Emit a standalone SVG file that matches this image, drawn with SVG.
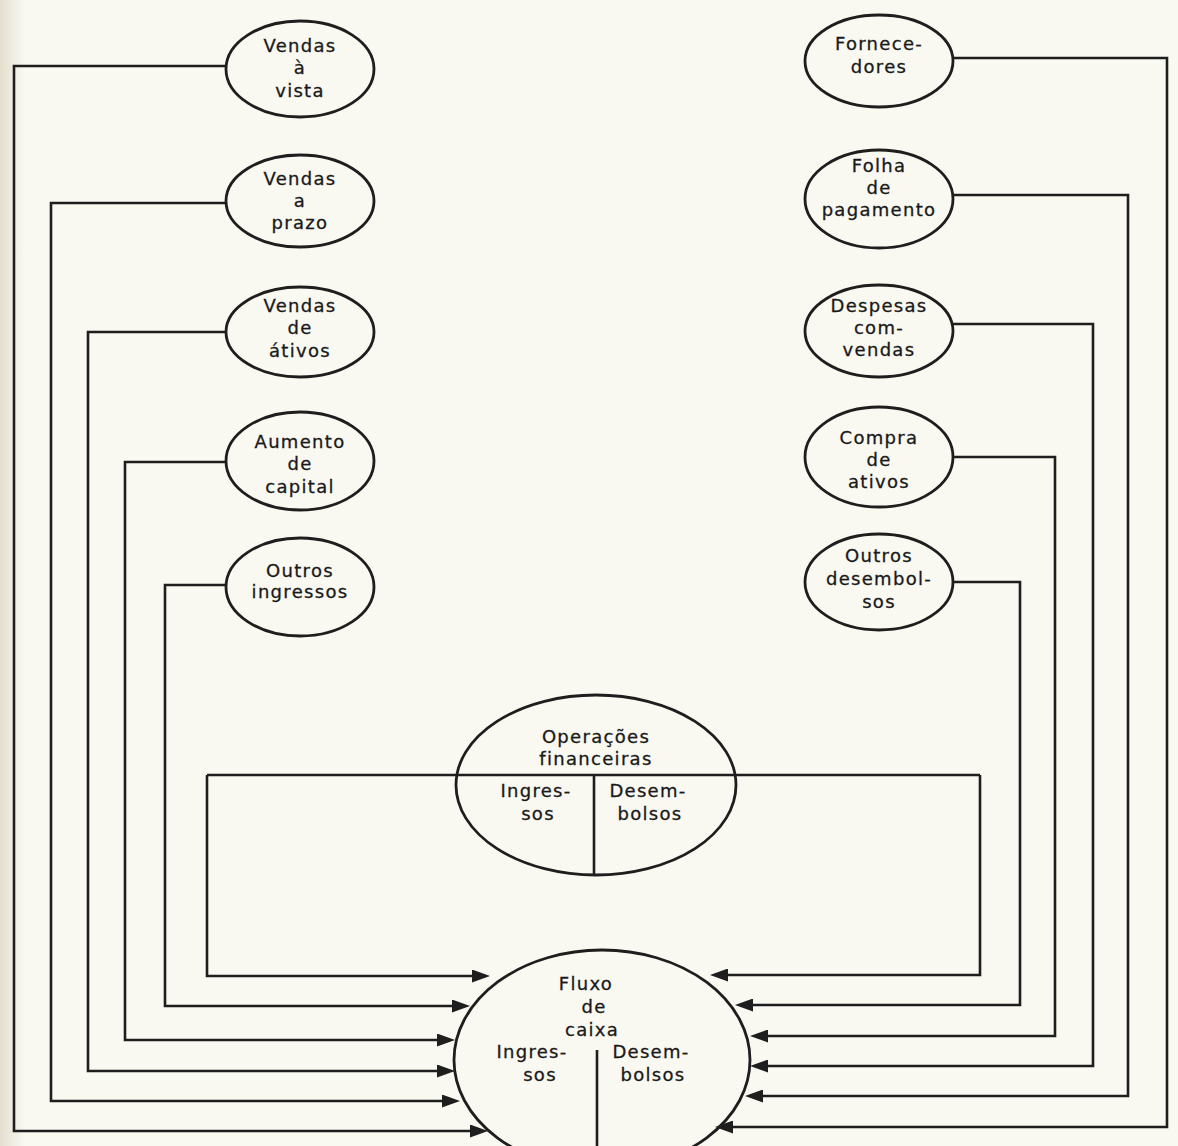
<svg xmlns="http://www.w3.org/2000/svg" width="1178" height="1146" viewBox="0 0 1178 1146">
<defs>
<style>
.bg{fill:#f9f8f1}
.node ellipse{fill:none;stroke:#1e1e1e;stroke-width:2.8}
.node text{font-family:"DejaVu Sans","Liberation Sans",sans-serif;font-size:18px;letter-spacing:1.3px;fill:#1a1a1a;stroke:#1a1a1a;stroke-width:0.3;text-anchor:middle}
.conn path{fill:none;stroke:#1e1e1e;stroke-width:2.6;marker-end:url(#ah)}
.conn line{stroke:#1e1e1e;stroke-width:2.6}
.div{stroke:#1e1e1e;stroke-width:2.6}
</style>
<linearGradient id="edge" x1="0" y1="0" x2="1" y2="0">
<stop offset="0" stop-color="#e4dece"/>
<stop offset="1" stop-color="#f9f8f1"/>
</linearGradient>
<marker id="ah" markerUnits="userSpaceOnUse" markerWidth="18" markerHeight="13" refX="11" refY="6.5" orient="auto">
<path d="M0,0 L18,6.5 L0,13 z" fill="#1e1e1e"/>
</marker>
</defs>
<rect class="bg" x="0" y="0" width="1178" height="1146"/>
<rect x="0" y="0" width="24" height="1146" fill="url(#edge)"/>

<g id="connectors" class="conn">
<path d="M226,66 H14 V1131 H481"/>
<path d="M226,203 H51 V1101 H453"/>
<path d="M226,332 H88 V1071 H448"/>
<path d="M226,462 H125 V1040 H448"/>
<path d="M226,585 H165 V1006 H463"/>
<line x1="207" y1="775" x2="980" y2="775"/>
<path d="M207,775 V976 H483"/>
<path d="M980,775 V975 H717"/>
<path d="M953,58 H1167 V1127 H722"/>
<path d="M953,195 H1128 V1096 H752"/>
<path d="M953,324 H1093 V1066 H757"/>
<path d="M953,457 H1055 V1036 H757"/>
<path d="M953,582 H1020 V1005 H742"/>
</g>

<g id="vendas-a-vista" class="node">
<ellipse cx="300" cy="69" rx="74" ry="48"/>
<text x="300" y="52">Vendas</text>
<text x="300" y="74">à</text>
<text x="300" y="97">vista</text>
</g>
<g id="vendas-a-prazo" class="node">
<ellipse cx="300" cy="201" rx="74" ry="46"/>
<text x="300" y="185">Vendas</text>
<text x="300" y="207">a</text>
<text x="300" y="229">prazo</text>
</g>
<g id="vendas-de-ativos" class="node">
<ellipse cx="300" cy="332" rx="74" ry="45"/>
<text x="300" y="312">Vendas</text>
<text x="300" y="334">de</text>
<text x="300" y="357">átivos</text>
</g>
<g id="aumento-de-capital" class="node">
<ellipse cx="300" cy="461" rx="74" ry="49"/>
<text x="300" y="448">Aumento</text>
<text x="300" y="470">de</text>
<text x="300" y="493">capital</text>
</g>
<g id="outros-ingressos" class="node">
<ellipse cx="300" cy="587" rx="74" ry="49"/>
<text x="300" y="577">Outros</text>
<text x="300" y="598">ingressos</text>
</g>

<g id="fornecedores" class="node">
<ellipse cx="879" cy="61" rx="74" ry="46"/>
<text x="879" y="50">Fornece-</text>
<text x="879" y="73">dores</text>
</g>
<g id="folha-de-pagamento" class="node">
<ellipse cx="879" cy="199" rx="74" ry="49"/>
<text x="879" y="172">Folha</text>
<text x="879" y="194">de</text>
<text x="879" y="216">pagamento</text>
</g>
<g id="despesas-com-vendas" class="node">
<ellipse cx="879" cy="331" rx="74" ry="46"/>
<text x="879" y="312">Despesas</text>
<text x="879" y="334">com-</text>
<text x="879" y="356">vendas</text>
</g>
<g id="compra-de-ativos" class="node">
<ellipse cx="879" cy="457" rx="74" ry="50"/>
<text x="879" y="444">Compra</text>
<text x="879" y="466">de</text>
<text x="879" y="488">ativos</text>
</g>
<g id="outros-desembolsos" class="node">
<ellipse cx="879" cy="582" rx="74" ry="48"/>
<text x="879" y="562">Outros</text>
<text x="879" y="585">desembol-</text>
<text x="879" y="608">sos</text>
</g>

<g id="operacoes-financeiras" class="node">
<ellipse cx="596" cy="785" rx="140" ry="90"/>
<line class="div" x1="594" y1="775" x2="594" y2="875"/>
<text x="596" y="743">Operações</text>
<text x="596" y="765">financeiras</text>
<text x="536" y="797">Ingres-</text>
<text x="538" y="820">sos</text>
<text x="648" y="797">Desem-</text>
<text x="650" y="820">bolsos</text>
</g>

<g id="fluxo-de-caixa" class="node">
<ellipse cx="602" cy="1060" rx="148" ry="110"/>
<line class="div" x1="597" y1="1050" x2="597" y2="1146"/>
<text x="586" y="990">Fluxo</text>
<text x="594" y="1013">de</text>
<text x="592" y="1036">caixa</text>
<text x="532" y="1058">Ingres-</text>
<text x="540" y="1081">sos</text>
<text x="651" y="1058">Desem-</text>
<text x="653" y="1081">bolsos</text>
</g>
</svg>
